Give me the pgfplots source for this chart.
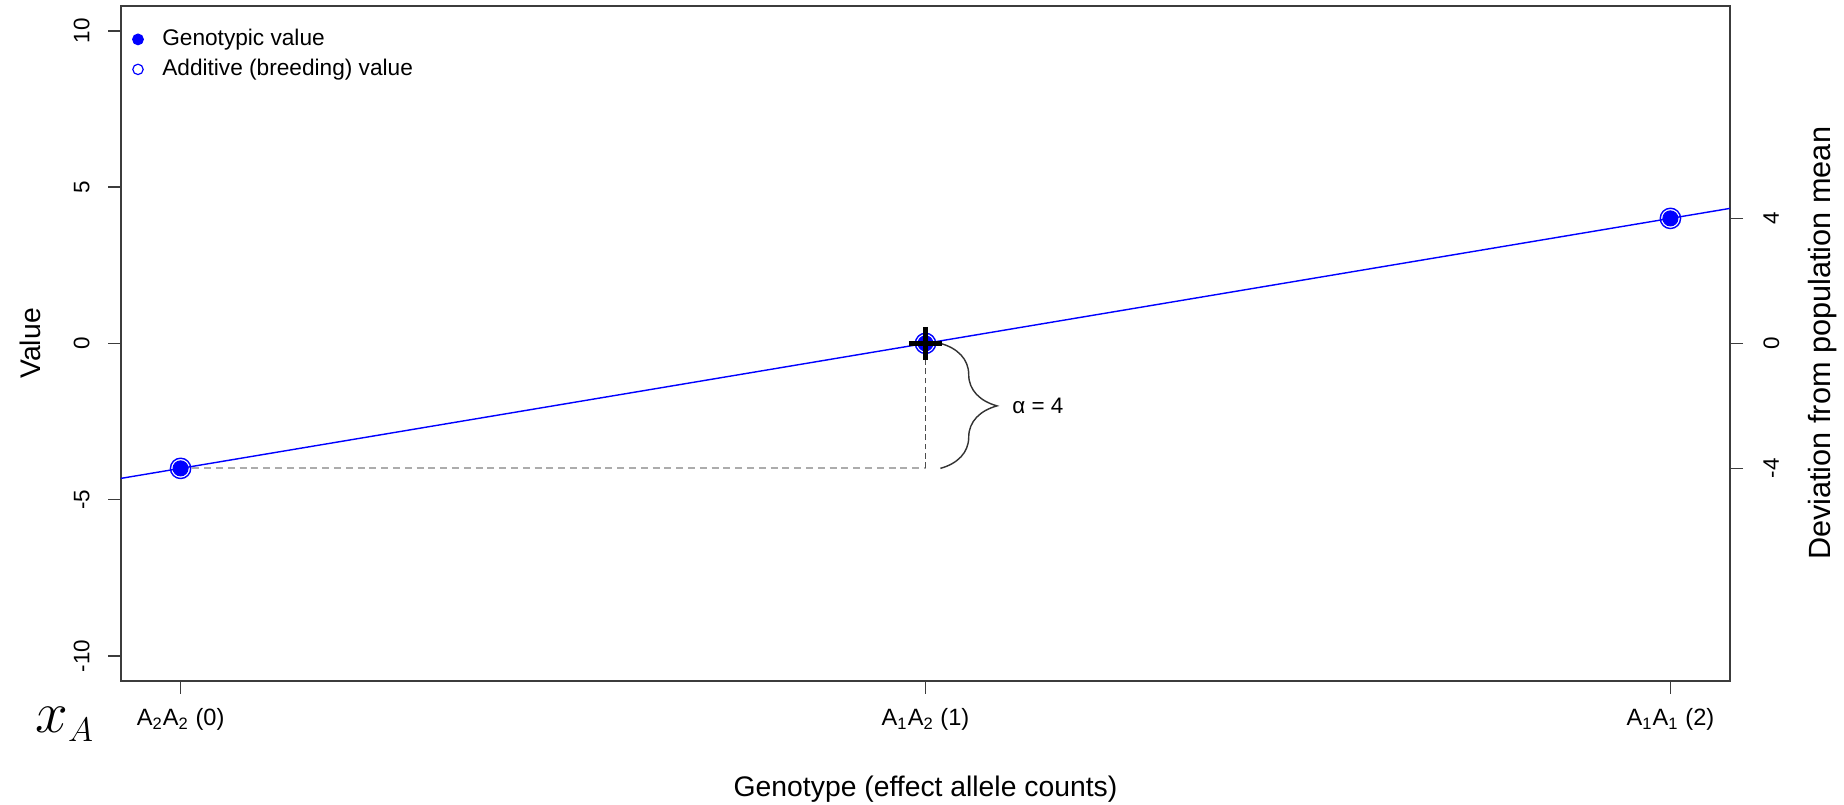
\documentclass[border=0pt]{standalone}
\usepackage{fontspec}
\setmainfont{Liberation Sans}
\usepackage{pgfplots}
\pgfplotsset{compat=1.18}
\usetikzlibrary{decorations.pathreplacing}
\definecolor{rblue}{RGB}{0,0,255}
\definecolor{axgray}{RGB}{60,60,60}

\begin{document}
\begin{tikzpicture}
\useasboundingbox (-51.27pt,-52.54pt) rectangle (730.1pt,288.5pt);
\begin{axis}[
  name=main,
  at={(0pt,0pt)}, anchor=south west,
  scale only axis, width=681.8pt, height=286pt,
  xmin=-0.08, xmax=2.08, ymin=-10.8, ymax=10.8,
  axis line style={axgray, line width=0.6pt},
  tick style={axgray, line width=0.6pt},
  tick align=outside, major tick length=5.5pt,
  xtick pos=left, ytick pos=left,
  xtick={0,1,2},
  xticklabels={A\textsubscript{2}A\textsubscript{2} (0), A\textsubscript{1}A\textsubscript{2} (1), A\textsubscript{1}A\textsubscript{1} (2)},
  ytick={-10,-5,0,5,10},
  yticklabels={-10,-5,0,5,10},
  xticklabel style={font=\fontsize{10}{12}\selectfont, anchor=north, inner sep=0pt},
  yticklabel style={font=\fontsize{9.5}{11}\selectfont, rotate=90, anchor=south, inner sep=0pt},
  xticklabel shift=6.1pt, yticklabel shift=7.6pt,
  xlabel={Genotype (effect allele counts)},
  xlabel style={at={(axis description cs:0.5,-0.172)}, anchor=base, font=\fontsize{12}{14}\selectfont, inner sep=0pt},
  ylabel={Value},
  ylabel style={at={(axis description cs:-0.0497,0.5)}, anchor=south, font=\fontsize{12}{14}\selectfont, inner sep=0pt},
  legend style={at={(axis description cs:0.0069,0.9668)}, anchor=north west, draw=none, fill=none, inner sep=0pt, column sep=8pt, row sep=3.7pt, font=\fontsize{9.6}{11}\selectfont, nodes={inner sep=0pt, text height=7pt, text depth=2pt}},
  legend cell align=left,
  legend image code/.code={\draw[#1] plot coordinates {(0pt,0pt)};},
]
\addplot[rblue, line width=0.6pt, forget plot] coordinates {(-0.2,-4.8) (2.2,4.8)};
\addplot[gray!65, line width=0.9pt, dash pattern=on 3pt off 2pt, forget plot] coordinates {(0,-4) (1,-4)};
\addplot[black!70, line width=0.5pt, dash pattern=on 2.5pt off 1.5pt, forget plot] coordinates {(1,-4) (1,0)};
\addplot[only marks, mark=*, mark size=3.2pt, rblue, forget plot] coordinates {(0,-4) (1,0) (2,4)};
\addplot[only marks, mark=o, mark size=4.3pt, rblue, line width=0.6pt, forget plot] coordinates {(0,-4) (1,0) (2,4)};
\addplot[only marks, mark=+, mark size=7pt, black, line width=1.8pt, forget plot] coordinates {(1,0)};
\addlegendimage{only marks, mark=*, mark size=2.3pt, rblue}
\addlegendentry{Genotypic value}
\addlegendimage{only marks, mark=o, mark size=2.2pt, rblue, line width=0.5pt}
\addlegendentry{Additive (breeding) value}
\draw[decorate, decoration={brace, amplitude=24pt}, black!80, line width=0.6pt] (axis cs:1.02,0) -- (axis cs:1.02,-4);
\node[anchor=west, font=\fontsize{9.5}{11}\selectfont, inner sep=0pt] at (axis cs:1.116,-2) {α = 4};
\end{axis}
\begin{axis}[
  at={(0pt,0pt)}, anchor=south west,
  scale only axis, width=681.8pt, height=286pt,
  xmin=-0.08, xmax=2.08, ymin=-10.8, ymax=10.8,
  axis x line=none, axis y line*=right,
  axis line style={draw=none},
  tick style={axgray, line width=0.6pt},
  tick align=outside, major tick length=5.5pt,
  ytick={-4,0,4}, yticklabels={-4,0,4},
  yticklabel style={font=\fontsize{9.5}{11}\selectfont, rotate=90, anchor=north, inner sep=0pt},
  yticklabel shift=8.5pt,
  ylabel={Deviation from population mean},
  ylabel style={at={(axis description cs:1.0485,0.5)}, anchor=north, font=\fontsize{13}{15}\selectfont, inner sep=0pt},
]
\addplot[draw=none] coordinates {(0,0)};
\end{axis}
\node[anchor=base west, font=\fontsize{23}{23}\selectfont, inner sep=0pt] at ([xshift=-36.4pt, yshift=-22pt]main.south west) {$x_{\mbox{\fontsize{13.5}{13.5}\selectfont$A$}}$};
\end{tikzpicture}
\end{document}
